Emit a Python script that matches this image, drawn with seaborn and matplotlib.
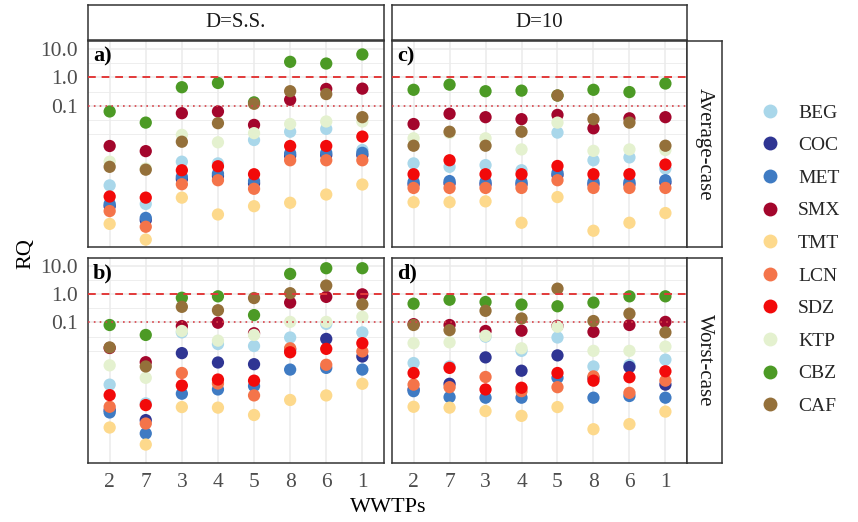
import numpy as np
import pandas as pd
import matplotlib
matplotlib.use("Agg")
import matplotlib.pyplot as plt
from matplotlib.lines import Line2D
from matplotlib.ticker import FixedLocator, NullFormatter
import seaborn as sns

sns.set_theme(style="white")
plt.rcParams["font.family"] = ["Liberation Serif", "DejaVu Serif"]

# WWTP order along the x axis
wwtps = ["2", "7", "3", "4", "5", "8", "6", "1"]

# compounds in legend / drawing order and their colours
compounds = ["BEG", "COC", "MET", "SMX", "TMT", "LCN", "SDZ", "KTP", "CBZ", "CAF"]
colors = ["#a9d7ea", "#2f3593", "#3f7bc3", "#a3062c", "#fdd98c",
          "#f4744a", "#f20a0a", "#e4f1cf", "#4c9a25", "#94703a"]

# log10(RQ) per compound, values for WWTPs 2, 7, 3, 4, 5, 8, 6, 1
avg_ss = {
    "BEG": [-3.79, -4.44, -2.96, -3.02, -2.20, -1.91, -1.81, -2.55],
    "COC": [-4.52, -5.01, -3.57, -3.46, -3.72, -2.75, -2.73, -2.73],
    "MET": [-4.44, -4.93, -3.49, -3.38, -3.64, -2.67, -2.65, -2.65],
    "SMX": [-2.41, -2.59, -1.26, -1.20, -1.67, -0.79, -0.41, -0.40],
    "TMT": [-5.14, -5.69, -4.22, -4.81, -4.52, -4.40, -4.11, -3.76],
    "LCN": [-4.69, -5.24, -3.75, -3.61, -3.91, -2.91, -2.91, -2.91],
    "SDZ": [-4.18, -4.22, -3.26, -3.12, -3.40, -2.41, -2.41, -2.08],
    "KTP": [-2.96, -3.20, -2.02, -2.28, -1.96, -1.64, -1.55, -1.55],
    "CBZ": [-1.20, -1.59, -0.35, -0.20, -0.88, 0.54, 0.48, 0.80],
    "CAF": [-3.14, -3.24, -2.26, -1.61, -0.93, -0.49, -0.59, -1.40],
}
avg_d10 = {
    "BEG": [-3.02, -3.14, -3.08, -3.26, -1.94, -2.91, -2.81, -3.20],
    "COC": [-3.75, -3.72, -3.75, -3.75, -3.43, -3.75, -3.75, -3.69],
    "MET": [-3.67, -3.64, -3.67, -3.67, -3.35, -3.67, -3.67, -3.61],
    "SMX": [-1.64, -1.28, -1.40, -1.47, -1.32, -1.79, -1.44, -1.40],
    "TMT": [-4.38, -4.38, -4.35, -5.10, -4.20, -5.38, -5.10, -4.76],
    "LCN": [-3.88, -3.88, -3.88, -3.88, -3.61, -3.88, -3.88, -3.88],
    "SDZ": [-3.40, -2.91, -3.40, -3.40, -3.11, -3.40, -3.40, -3.06],
    "KTP": [-2.14, -1.95, -2.14, -2.53, -1.59, -2.58, -2.53, -2.55],
    "CBZ": [-0.44, -0.26, -0.49, -0.47, -0.64, -0.44, -0.52, -0.22],
    "CAF": [-2.40, -1.91, -2.40, -1.91, -0.64, -1.47, -1.59, -2.40],
}
worst_ss = {
    "BEG": [-3.19, -3.85, -1.35, -1.76, -1.83, -1.53, -1.05, -1.35],
    "COC": [-4.09, -4.44, -2.08, -2.41, -2.47, -1.95, -1.58, -2.20],
    "MET": [-4.17, -4.91, -3.51, -3.36, -3.24, -2.66, -2.60, -2.66],
    "SMX": [-1.90, -2.40, -1.13, -1.01, -1.38, -0.30, -0.10, -0.01],
    "TMT": [-4.70, -5.30, -3.98, -4.00, -4.26, -3.73, -3.57, -3.16],
    "LCN": [-3.97, -4.56, -2.78, -3.15, -3.57, -1.91, -2.49, -2.02],
    "SDZ": [-3.56, -3.91, -3.22, -3.01, -3.05, -2.05, -1.93, -1.73],
    "KTP": [-2.51, -2.95, -1.30, -1.64, -1.44, -0.98, -0.98, -0.80],
    "CBZ": [-1.09, -1.44, -0.13, -0.08, -0.74, 0.71, 0.91, 0.91],
    "CAF": [-1.88, -2.55, -0.45, -0.57, -0.14, 0.03, 0.30, -0.36],
}
worst_d10 = {
    "BEG": [-2.43, -2.55, -1.50, -2.00, -1.53, -2.55, -2.50, -2.31],
    "COC": [-3.36, -3.16, -2.23, -2.70, -2.16, -2.95, -2.57, -3.19],
    "MET": [-3.42, -3.63, -3.65, -3.65, -2.95, -3.65, -3.59, -3.65],
    "SMX": [-1.06, -1.09, -1.30, -1.29, -1.12, -1.33, -1.09, -0.98],
    "TMT": [-3.97, -4.00, -4.12, -4.29, -3.98, -4.76, -4.58, -4.14],
    "LCN": [-3.19, -3.28, -2.92, -3.42, -3.28, -2.90, -3.48, -3.05],
    "SDZ": [-2.78, -2.60, -3.36, -3.30, -2.78, -3.05, -2.93, -2.72],
    "KTP": [-1.73, -1.70, -1.47, -1.91, -1.15, -2.00, -2.00, -1.85],
    "CBZ": [-0.34, -0.20, -0.28, -0.37, -0.43, -0.30, -0.08, -0.08],
    "CAF": [-1.09, -1.27, -0.59, -0.86, 0.19, -0.95, -0.69, -1.35],
}

columns = ["D=S.S.", "D=10"]
rows_lab = ["Average-case", "Worst-case"]
panel_tags = [["a)", "c)"], ["b)", "d)"]]
tables = [[avg_ss, avg_d10], [worst_ss, worst_d10]]

records = []
for r, scen in enumerate(rows_lab):
    for c, dlab in enumerate(columns):
        tab = tables[r][c]
        for comp in compounds:
            for w, v in zip(wwtps, tab[comp]):
                records.append({"Scenario": scen, "D": dlab, "Compound": comp,
                                "WWTP": w, "RQ": 10.0 ** v})
df = pd.DataFrame(records)

W, H = 858, 522
fig = plt.figure(figsize=(W / 100, H / 100), dpi=100)
fig.patch.set_facecolor("white")


def rect(x0, y0, x1, y1):
    return [x0 / W, 1 - y1 / H, (x1 - x0) / W, (y1 - y0) / H]


col_x = [(88, 384), (392, 687)]
row_y = [(41, 247), (258, 463)]
edge = "#333333"
palette = dict(zip(compounds, colors))

for r in range(2):
    for c in range(2):
        ax = fig.add_axes(rect(col_x[c][0], row_y[r][0], col_x[c][1], row_y[r][1]))
        sub = df[(df["Scenario"] == rows_lab[r]) & (df["D"] == columns[c])]
        sns.scatterplot(data=sub, x="WWTP", y="RQ", hue="Compound",
                        hue_order=compounds, palette=palette, s=78,
                        linewidth=0, alpha=1, legend=False, ax=ax, zorder=3)
        ax.set_yscale("log")
        ax.set_ylim(10 ** -5.95, 10 ** 1.27)
        ax.set_xlim(-0.6, 7.6)
        ax.set_xticks(range(len(wwtps)))
        ax.set_yticks([0.1, 1, 10])
        ax.yaxis.set_minor_locator(FixedLocator([1e-2, 10 ** -1.5, 10 ** -0.5, 10 ** 0.5]))
        ax.yaxis.set_minor_formatter(NullFormatter())
        ax.set_axisbelow(True)
        ax.grid(True, which="major", color="#ebebeb", lw=1.1)
        ax.grid(True, which="minor", axis="y", color="#ebebeb", lw=0.6)
        ax.axhline(1.0, color="#e23a3a", lw=1.4, ls=(0, (4, 3)), zorder=4)
        ax.axhline(0.1, color="#d8434a", lw=1.2, ls=(0, (1, 2.5)), zorder=4)
        ax.set_xlabel("")
        ax.set_ylabel("")
        for s in ax.spines.values():
            s.set_color(edge)
            s.set_linewidth(1.1)
        ax.tick_params(which="minor", length=0)
        ax.tick_params(which="major", length=5, width=1, color=edge,
                       labelsize=15.5, labelcolor="#4d4d4d", pad=2)
        if c == 0:
            ax.set_yticklabels(["0.1", "1.0", "10.0"])
        else:
            ax.tick_params(axis="y", left=False, labelleft=False)
        if r == 1:
            ax.set_xticklabels(wwtps)
        else:
            ax.tick_params(axis="x", bottom=False, labelbottom=False)
        ax.text(0.017, 0.975, panel_tags[r][c], transform=ax.transAxes,
                ha="left", va="top", fontsize=16, fontweight="bold", color="black")

# facet strips
for c, lab in enumerate(columns):
    sax = fig.add_axes(rect(col_x[c][0], 5, col_x[c][1], 40))
    sax.set_xticks([]); sax.set_yticks([])
    sax.set_facecolor("white")
    for s in sax.spines.values():
        s.set_color(edge); s.set_linewidth(1.1)
    sax.text(0.5, 0.5, lab, ha="center", va="center", fontsize=15,
             color="#1a1a1a", transform=sax.transAxes)

for r, lab in enumerate(rows_lab):
    sax = fig.add_axes(rect(687, row_y[r][0], 722, row_y[r][1]))
    sax.set_xticks([]); sax.set_yticks([])
    sax.set_facecolor("white")
    for s in sax.spines.values():
        s.set_color(edge); s.set_linewidth(1.1)
    sax.text(0.5, 0.5, lab, ha="center", va="center", fontsize=15,
             rotation=-90, color="#1a1a1a", transform=sax.transAxes)

# axis titles
fig.text(26 / W, 1 - 254 / H, "RQ", rotation=90, ha="center", va="center",
         fontsize=16, color="black")
fig.text(388 / W, 1 - 508 / H, "WWTPs", ha="center", va="center",
         fontsize=16, color="black")

# legend
handles = [Line2D([0], [0], marker="o", ls="", markersize=10,
                  markerfacecolor=col, markeredgewidth=0) for col in colors]
fig.legend(handles, compounds, loc="center left",
           bbox_to_anchor=(760 / W, 1 - 259.5 / H), frameon=False,
           fontsize=14, handlelength=1.0, handletextpad=0.95,
           labelspacing=0.77, borderpad=0, borderaxespad=0)

fig.savefig("out.png", dpi=100, facecolor="white")
